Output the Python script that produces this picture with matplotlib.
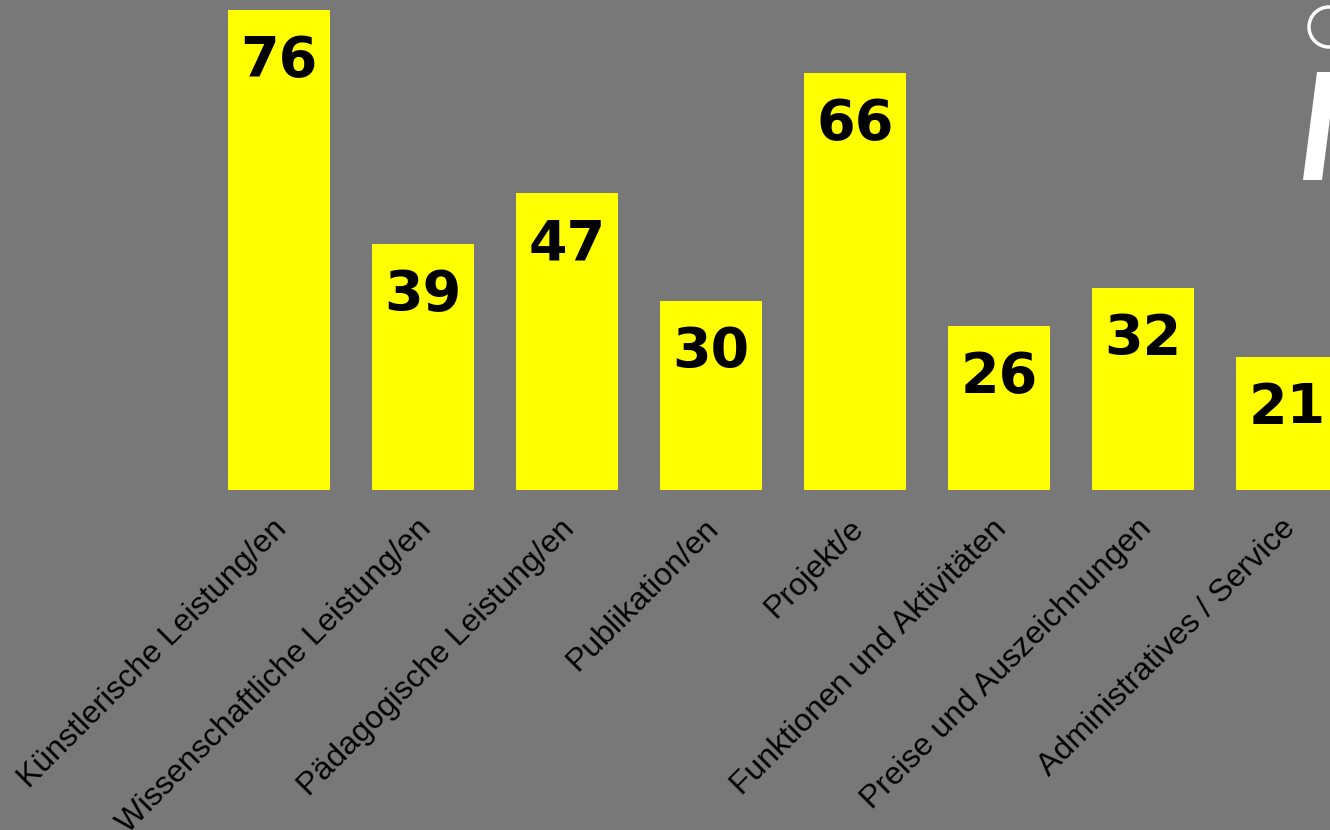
import matplotlib
matplotlib.use("Agg")
import matplotlib.pyplot as plt
import matplotlib.transforms as mtransforms
from matplotlib.patches import Circle, Polygon

# data
categories = ["Künstlerische Leistung/en", "Wissenschaftliche Leistung/en",
              "Pädagogische Leistung/en", "Publikation/en", "Projekt/e",
              "Funktionen und Aktivitäten", "Preise und Auszeichnungen",
              "Administratives / Service"]
counts = [76, 39, 47, 30, 66, 26, 32, 21]

bg = "#787878"
W, H = 1330, 830

fig = plt.figure(figsize=(W / 100, H / 100), dpi=100, facecolor=bg)
# axes spans full width, baseline at y=490 px from top
ax = fig.add_axes([0, 340 / H, 1, 490 / H])
ax.set_facecolor(bg)

x = list(range(len(categories)))
ax.bar(x, counts, width=0.708, color="#FFFF00", zorder=2)
ax.set_xlim(-279 / 144, (W - 279) / 144)
ax.set_ylim(0, 490 / (480 / 76))

for xi, v in zip(x, counts):
    ax.annotate(str(v), (xi, v), xytext=(0, -24), textcoords="offset pixels",
                ha="center", va="top", fontsize=40, fontweight="bold",
                family="DejaVu Sans", color="black", zorder=3)

ax.set_xticks(x)
ax.set_xticklabels(categories, rotation=45, ha="right", rotation_mode="anchor",
                   family="Liberation Sans", fontsize=23, color="black")
ax.tick_params(axis="x", length=0, pad=17)
# nudge labels a little to the left
shift = mtransforms.ScaledTranslation(-7 / 100, 0, fig.dpi_scale_trans)
for lbl in ax.get_xticklabels():
    lbl.set_transform(lbl.get_transform() + shift)
ax.set_yticks([])
for s in ax.spines.values():
    s.set_visible(False)

# white logo fragment at top right edge (display pixel coords, origin bottom-left)
fig.patches.append(Circle((1329, H - 27), 20, transform=None,
                          fill=False, ec="white", lw=2.5))
fig.patches.append(Polygon([(1317, H - 72), (1336, H - 72),
                            (1322, H - 180), (1303, H - 180)],
                           closed=True, transform=None, fc="white", ec="none"))

fig.savefig("out.png", dpi=100, facecolor=bg)
